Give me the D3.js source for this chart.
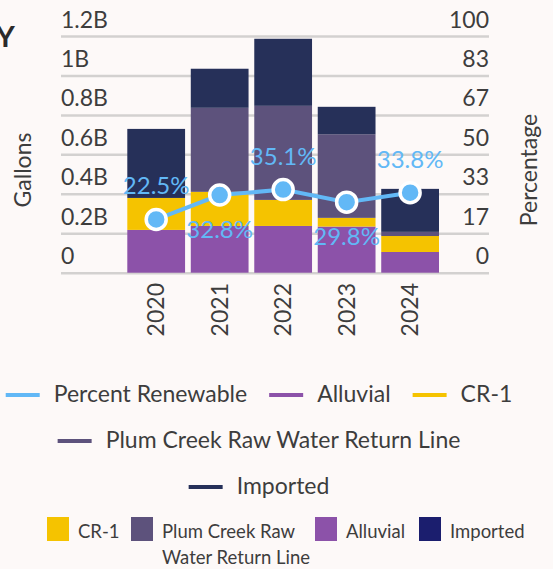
<!DOCTYPE html>
<html>
<head>
<meta charset="utf-8">
<script src="https://cdn.jsdelivr.net/npm/d3@7"></script>
<style>
  html, body { margin: 0; padding: 0; background: #fdf9f8; }
  svg { display: block; font-family: Lato, "Open Sans", sans-serif; }
</style>
</head>
<body>
<svg id="chart" width="553" height="569"></svg>
<script>
// water supply by source, gallons per year + share renewable
const years = ["2020", "2021", "2022", "2023", "2024"];
const alluvial = [217e6, 237e6, 237e6, 234e6, 105e6];
const cr1 = [162e6, 173e6, 132e6, 44e6, 81e6];
const plumCreek = [0, 426e6, 477e6, 424e6, 21e6];
const imported = [350e6, 198e6, 340e6, 139e6, 218e6];
const pctRenewable = [22.5, 32.8, 35.1, 29.8, 33.8];

const galTicks = [0, 0.2e9, 0.4e9, 0.6e9, 0.8e9, 1.0e9, 1.2e9];
const galTickLabels = ["0", "0.2B", "0.4B", "0.6B", "0.8B", "1B", "1.2B"];
const pctTicks = [0, 100 / 6, 200 / 6, 50, 400 / 6, 500 / 6, 100];

const C = {
  alluvial: "#8c52a9", cr1: "#f5c300", plum: "#5d527c", imported: "#263059",
  line: "#62b8f6", grid: "#d3d1d0", text: "#3d3d3d", importedSq: "#1b1e6e"
};

const svg = d3.select("#chart");
const X0 = 61, X1 = 489, Y0 = 272.7, YT = 36;

const y = d3.scaleLinear().domain([0, 1.2e9]).range([Y0, YT]);
const yP = d3.scaleLinear().domain([0, 100]).range([Y0, YT]);
const x = d3.scaleBand().domain(years).range([127.3, 439]).paddingInner(0.09).paddingOuter(0);

// cut-off title fragment
svg.append("text").attr("x", -4).attr("y", 47).attr("font-size", 29).attr("font-weight", 700)
  .attr("fill", "#2b2b2b").text("Y");

// gridlines + left labels
const gl = svg.append("g").attr("transform", `translate(${X0},0)`)
  .call(d3.axisRight(y).tickValues(galTicks).tickSize(X1 - X0)
    .tickFormat((d, i) => galTickLabels[i]));
gl.select(".domain").remove();
gl.selectAll(".tick line").attr("stroke", C.grid).attr("stroke-width", 2.5);
gl.selectAll(".tick text").attr("x", 0).attr("dy", -9).attr("text-anchor", "start")
  .attr("font-size", 23).attr("fill", C.text).attr("font-family", "Lato, sans-serif");

// right labels
const gr = svg.append("g").attr("transform", `translate(${X1},0)`)
  .call(d3.axisLeft(yP).tickValues(pctTicks).tickSize(0).tickFormat((d) => Math.round(d)));
gr.select(".domain").remove();
gr.selectAll(".tick text").attr("x", 0).attr("dy", -9).attr("text-anchor", "end")
  .attr("font-size", 23).attr("fill", C.text).attr("font-family", "Lato, sans-serif");

// stacked bars
const keys = ["alluvial", "cr1", "plum", "imported"];
const rows = years.map((yr, i) => ({
  year: yr, alluvial: alluvial[i], cr1: cr1[i], plum: plumCreek[i], imported: imported[i]
}));
const stack = d3.stack().keys(keys)(rows);
svg.append("g").selectAll("g").data(stack).join("g").attr("fill", (s) => C[s.key])
  .selectAll("rect").data((s) => s).join("rect")
  .attr("x", (d) => x(d.data.year)).attr("width", x.bandwidth())
  .attr("y", (d) => y(d[1])).attr("height", (d) => Math.max(0, y(d[0]) - y(d[1])));

// percent renewable line
const cx = (i) => x(years[i]) + x.bandwidth() / 2;
const line = d3.line().x((d, i) => cx(i)).y((d) => yP(d));
svg.append("path").datum(pctRenewable).attr("fill", "none").attr("stroke", C.line)
  .attr("stroke-width", 4).attr("d", line);
svg.append("g").selectAll("circle").data(pctRenewable).join("circle")
  .attr("cx", (d, i) => cx(i)).attr("cy", (d) => yP(d)).attr("r", 10)
  .attr("fill", C.line).attr("stroke", "#fff").attr("stroke-width", 3.5);
svg.append("g").selectAll("text").data(pctRenewable).join("text")
  .attr("x", (d, i) => cx(i)).attr("y", (d, i) => yP(d) + (i % 2 ? 43 : -25))
  .attr("text-anchor", "middle").attr("font-size", 24).attr("fill", C.line)
  .text((d) => d.toFixed(1) + "%");

// axis titles
svg.append("text").attr("transform", "translate(31,170) rotate(-90)").attr("text-anchor", "middle")
  .attr("font-size", 23).attr("fill", C.text).text("Gallons");
svg.append("text").attr("transform", "translate(537,170) rotate(-90)").attr("text-anchor", "middle")
  .attr("font-size", 23).attr("fill", C.text).text("Percentage");

// x labels (rotated)
svg.append("g").selectAll("text").data(years).join("text")
  .attr("transform", (d) => `translate(${x(d) + x.bandwidth() / 2 + 8},${283}) rotate(-90)`)
  .attr("text-anchor", "end").attr("font-size", 23).attr("fill", C.text).text((d) => d);

// line legend, wrapped rows centred
const lineLegend = [
  { label: "Percent Renewable", color: C.line },
  { label: "Alluvial", color: C.alluvial },
  { label: "CR-1", color: C.cr1 },
  { label: "Plum Creek Raw Water Return Line", color: C.plum },
  { label: "Imported", color: C.imported }
];
const lg = svg.append("g");
const items = lg.selectAll("g").data(lineLegend).join("g");
items.append("line").attr("x1", 0).attr("x2", 34).attr("y1", -7).attr("y2", -7)
  .attr("stroke", (d) => d.color).attr("stroke-width", 4);
items.append("text").attr("x", 48).attr("font-size", 23).attr("fill", C.text).text((d) => d.label);
const widths = [];
items.each(function () { widths.push(this.getBBox().width); });
const maxW = 530, gap = 22, rowsOut = [[]];
let cur = 0;
widths.forEach((w, i) => {
  if (cur > 0 && cur + gap + w > maxW) { rowsOut.push([]); cur = 0; }
  cur += (cur > 0 ? gap : 0) + w;
  rowsOut[rowsOut.length - 1].push(i);
});
rowsOut.forEach((r, ri) => {
  const total = d3.sum(r, (i) => widths[i]) + gap * (r.length - 1);
  let px = 259 - total / 2;
  r.forEach((i) => {
    d3.select(items.nodes()[i]).attr("transform", `translate(${px},${402 + ri * 46})`);
    px += widths[i] + gap;
  });
});

// square legend
const sqLegend = [
  { label: ["CR-1"], color: C.cr1, x: 47 },
  { label: ["Plum Creek Raw", "Water Return Line"], color: C.plum, x: 131 },
  { label: ["Alluvial"], color: C.alluvial, x: 315 },
  { label: ["Imported"], color: C.importedSq, x: 419 }
];
const sq = svg.append("g").selectAll("g").data(sqLegend).join("g")
  .attr("transform", (d) => `translate(${d.x},517)`);
sq.append("rect").attr("width", 22).attr("height", 24).attr("fill", (d) => d.color);
sq.append("text").attr("font-size", 18.5).attr("fill", C.text)
  .selectAll("tspan").data((d) => d.label).join("tspan")
  .attr("x", 31).attr("y", (d, i) => 21 + i * 26).text((d) => d);
</script>
</body>
</html>
